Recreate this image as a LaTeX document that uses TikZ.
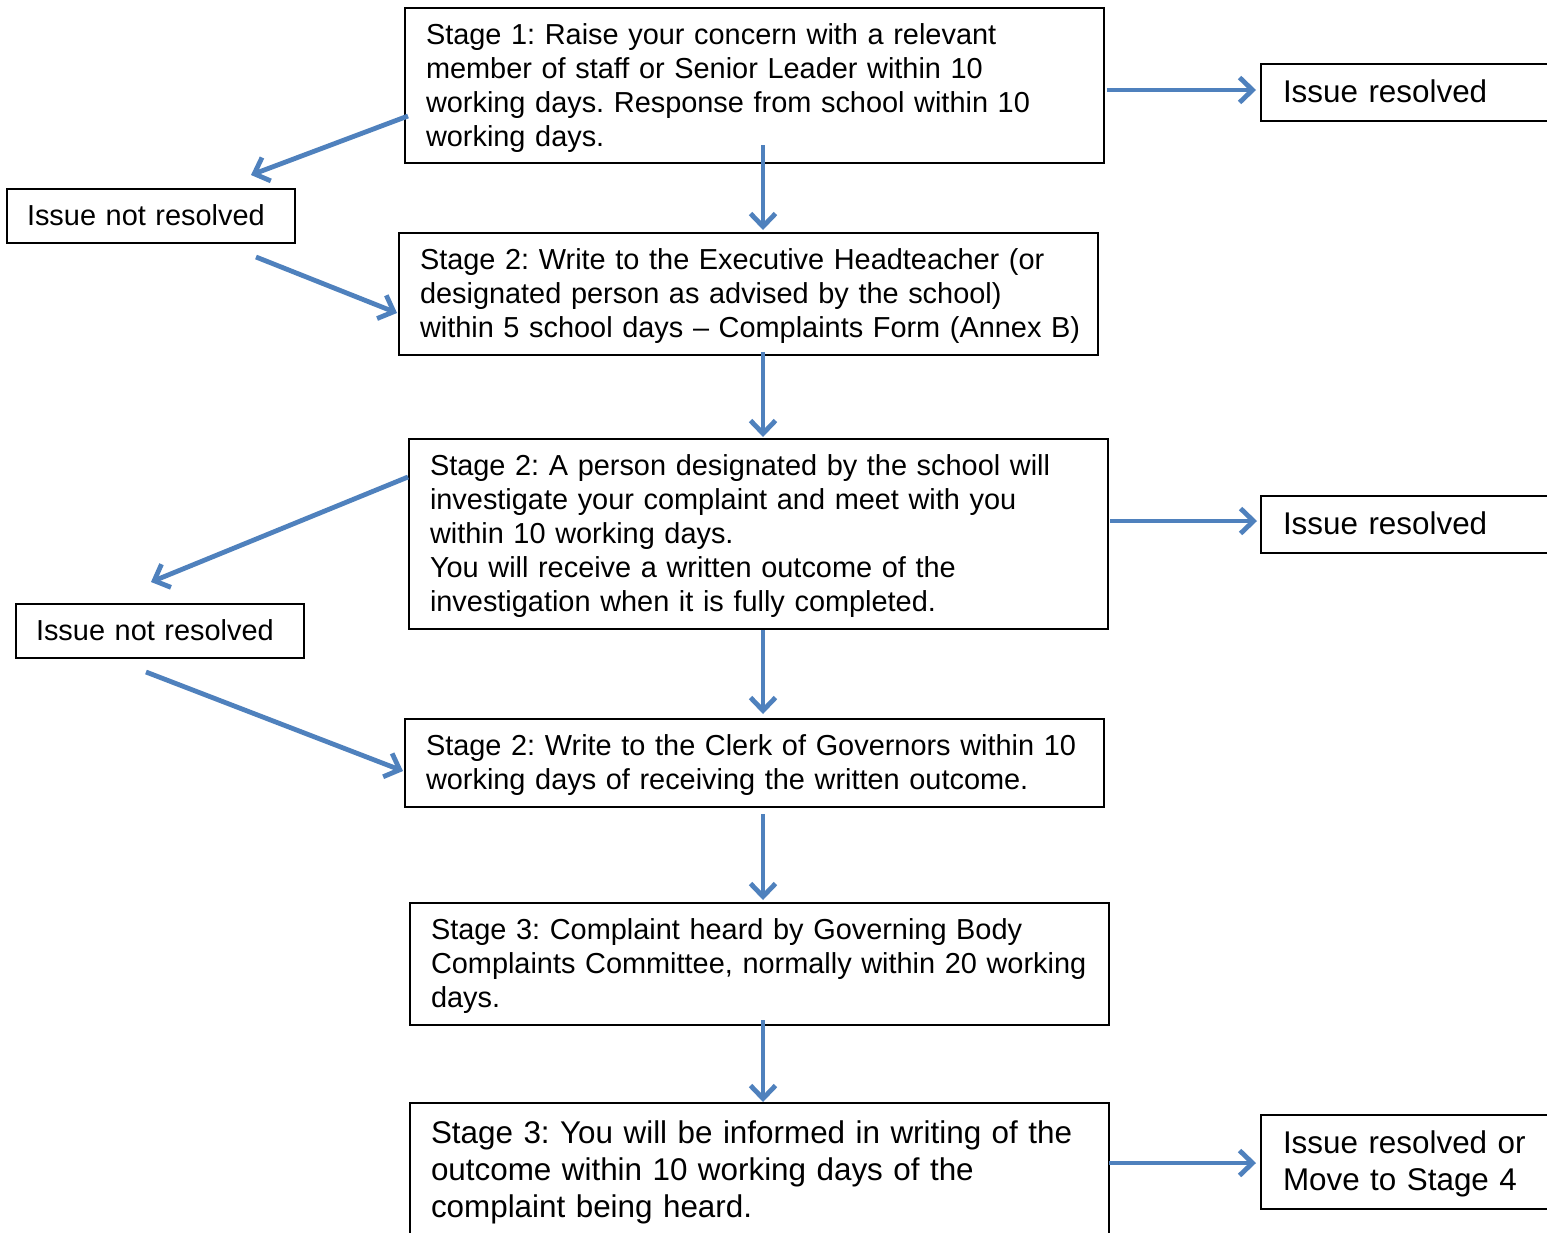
\documentclass[tikz,border=0pt]{standalone}
\usepackage{fontspec}
\setmainfont{Liberation Sans}
\usetikzlibrary{arrows.meta,calc}
\definecolor{arrowblue}{HTML}{4F81BD}
\frenchspacing
\newcommand\txtA{\fontsize{14.45}{17}\selectfont}
\newcommand\txtB{\fontsize{15.7}{18.5}\selectfont}
\newcommand\boxlines[1]{\begin{tabular}{@{}l@{}}#1\\[-3pt]\end{tabular}}
\tikzset{
  box/.style={draw, line width=1pt, anchor=north west, align=left, inner ysep=0pt, inner xsep=10.5pt, font=\txtA},
  bigbox/.style={box, text width=328.5pt},
  leftbox/.style={box, inner xsep=10pt, text width=124pt, minimum height=27pt},
  rightbox/.style={box, inner xsep=11pt, text width=128pt, font=\txtB},
  arr/.style={draw=arrowblue, line width=2.4pt, -{Straight Barb[length=6.5pt,width=12.5pt]}}
}
\begin{document}
\begin{tikzpicture}[x=0.5pt,y=-0.5pt]
\useasboundingbox (0,0) rectangle (1547,1232);
\fill[white] (0,0) rectangle (1547,1232);
\clip (0,0) rectangle (1547,1232);

\node[bigbox, minimum height=77.5pt] (s1) at (404,7) {\boxlines{Stage 1: Raise your concern with a relevant\\member of staff or Senior Leader within 10\\working days. Response from school within 10\\working days.}};
\node[rightbox, minimum height=28.5pt] (ir1) at (1260,63) {\boxlines{Issue resolved}};
\node[leftbox] (inr1) at (6,188) {\boxlines{Issue not resolved}};
\node[bigbox, minimum height=61pt] (s2a) at (398,232) {\boxlines{Stage 2: Write to the Executive Headteacher (or\\designated person as advised by the school)\\within 5 school days -- Complaints Form (Annex B)}};
\node[bigbox, minimum height=95pt] (s2b) at (408,438) {\boxlines{Stage 2: A person designated by the school will\\investigate your complaint and meet with you\\within 10 working days.\\You will receive a written outcome of the\\investigation when it is fully completed.}};
\node[rightbox, minimum height=28.5pt] (ir2) at (1260,495) {\boxlines{Issue resolved}};
\node[leftbox] (inr2) at (15,603) {\boxlines{Issue not resolved}};
\node[bigbox, minimum height=44pt] (s2c) at (404,718) {\boxlines{Stage 2: Write to the Clerk of Governors within 10\\working days of receiving the written outcome.}};
\node[bigbox, minimum height=61pt] (s3a) at (409,902) {\boxlines{Stage 3: Complaint heard by Governing Body\\Complaints Committee, normally within 20 working\\days.}};
\node[bigbox, font=\txtB, minimum height=67pt] (s3b) at (409,1102) {\boxlines{Stage 3: You will be informed in writing of the\\outcome within 10 working days of the\\complaint being heard.}};
\node[rightbox, minimum height=47pt] (ir3) at (1260,1114) {\boxlines{Issue resolved or\\Move to Stage 4}};

\draw[arr] ($(s1.east)+(2,4.5)$) -- ($(ir1.west)+(-4,-2.5)$);
\draw[arr] ($(s1.west)+(4,30.5)$) -- ($(inr1.north)+(100,-13)$);
\draw[arr] ($(s1.south)+(8.5,-19)$) -- ($(s2a.north)+(14.5,-2)$);
\draw[arr] ($(inr1.south)+(105,13)$) -- ($(s2a.west)+(-1,19)$);
\draw[arr] ($(s2a.south)+(14.5,-4)$) -- ($(s2b.north)+(4.5,-1)$);
\draw[arr] ($(s2b.west)+(0,-57)$) -- ($(inr2.north)+(-9,-21)$);
\draw[arr] ($(s2b.east)+(1,-13)$) -- ($(ir2.west)+(-3,-3.5)$);
\draw[arr] ($(s2b.south)+(4.5,0)$) -- ($(s2c.north)+(8.5,-4)$);
\draw[arr] ($(inr2.south)+(-14,13)$) -- ($(s2c.west)+(-1,8)$);
\draw[arr] ($(s2c.south)+(8.5,6)$) -- ($(s3a.north)+(3.5,-2)$);
\draw[arr] ($(s3a.south)+(3.5,-6)$) -- ($(s3b.north)+(3.5,0)$);
\draw[arr] ($(s3b.east)+(-1,-7)$) -- ($(ir3.west)+(-4,1)$);
\end{tikzpicture}
\end{document}
